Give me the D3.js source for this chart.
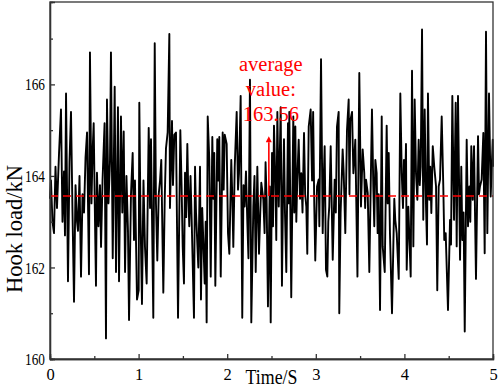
<!DOCTYPE html>
<html>
<head>
<meta charset="utf-8">
<script src="https://cdn.jsdelivr.net/npm/d3@7"></script>
<style>
  body { margin: 0; background: #fff; }
  svg text { font-family: "Liberation Serif", "Times New Roman", serif; }
</style>
</head>
<body>
<div id="chart"></div>
<script>
// hook load samples (time in s, load in kN)
var times = [
  0, .011, .028, .045, .062, .079, .102, .124, .141, .158, .169, .181, .203, .22, .237, .254, .271, .288, .305, .316,
  .333, .35, .367, .384, .401, .418, .44, .451, .468, .48,
  .493, .508, .519, .53, .547, .564, .576, .593, .616, .632, .643, .66, .677, .688, .708, .73, .745, .767, .779, .801,
  .816, .832, .847, .863, .88, .892, .914, .933, .948, .959, .982,
  1.001, 1.008, 1.021, 1.038, 1.055, 1.072, 1.091, 1.114, 1.129, 1.14, 1.166, 1.182, 1.196, 1.211, 1.227, 1.242, 1.256,
  1.279, 1.295, 1.309, 1.328, 1.347, 1.354, 1.377, 1.388, 1.403, 1.422, 1.445, 1.471,
  1.485, 1.498, 1.512, 1.524, 1.537, 1.55, 1.561, 1.572, 1.586, 1.599, 1.625, 1.637, 1.648, 1.674, 1.693, 1.704, 1.718,
  1.73, 1.746, 1.757, 1.768, 1.78, 1.798, 1.814, 1.832, 1.843, 1.854, 1.866, 1.888, 1.9, 1.911, 1.927, 1.949, 1.96, 1.972,
  1.994, 2.009, 2.024, 2.046, 2.058, 2.069, 2.085, 2.107, 2.122, 2.133, 2.152, 2.17, 2.184, 2.197, 2.212, 2.227, 2.24,
  2.257, 2.272, 2.295, 2.308, 2.322, 2.34, 2.359, 2.373, 2.385, 2.408, 2.422, 2.433, 2.445, 2.46, 2.48,
  2.491, 2.506, 2.517, 2.528, 2.543, 2.554, 2.566, 2.582, 2.604, 2.618, 2.63, 2.641, 2.652, 2.667, 2.686, 2.694, 2.701,
  2.723, 2.746, 2.757, 2.769, 2.78, 2.791, 2.807, 2.822, 2.836, 2.85, 2.867, 2.88, 2.893, 2.904, 2.92, 2.942, 2.958,
  2.97, 2.983, 2.994, 3.014, 3.033, 3.04, 3.059, 3.078, 3.089, 3.1, 3.115, 3.13, 3.141, 3.152, 3.168, 3.191, 3.213,
  3.226, 3.239, 3.258, 3.265, 3.28, 3.303, 3.315, 3.333, 3.352, 3.371, 3.38, 3.389, 3.409, 3.424, 3.446, 3.47,
  3.491, 3.51, 3.529, 3.547, 3.557, 3.567, 3.586, 3.604, 3.62, 3.634, 3.649, 3.66, 3.672, 3.687, 3.698, 3.71, 3.725,
  3.744, 3.755, 3.778, 3.8, 3.811, 3.823, 3.837, 3.86, 3.875, 3.886, 3.897, 3.913, 3.936, 3.954,
  3.97, 3.984, 3.995, 4.007, 4.018, 4.026, 4.044, 4.071, 4.086, 4.101, 4.116, 4.131, 4.146, 4.161, 4.173, 4.184, 4.199,
  4.213, 4.229, 4.244, 4.255, 4.266, 4.281, 4.292, 4.304, 4.32, 4.337, 4.357, 4.371, 4.387, 4.402, 4.421, 4.439, 4.45,
  4.466, 4.492, 4.515, 4.526, 4.541, 4.56, 4.579, 4.59, 4.605, 4.628, 4.642, 4.654, 4.668, 4.681, 4.703, 4.718, 4.733,
  4.744, 4.755, 4.771, 4.786, 4.808, 4.831, 4.842, 4.853, 4.872, 4.891, 4.906, 4.921, 4.936, 4.955, 4.974, 4.997, 5
];
var loads = [
  163.5, 163.9, 163.0, 162.75, 164.2, 163.3, 164.5, 165.45, 163.0, 164.1, 162.7, 165.8, 161.7, 164.3, 165.4, 163.2, 161.25, 163.8, 163.0, 162.8,
  164.0, 161.8, 163.6, 163.2, 164.4, 164.95, 161.85, 166.7, 163.4, 164.5,
  165.15, 163.0, 161.6, 164.07, 162.9, 163.8, 162.45, 163.9, 165.15, 160.45, 165.67, 163.4, 164.3, 166.7, 162.2, 165.95, 161.9, 165.5, 161.7, 165.3,
  163.2, 164.97, 161.9, 164.0, 162.8, 160.85, 163.6, 164.5, 162.6, 163.9, 161.3,
  161.5, 165.6, 163.2, 161.2, 163.9, 162.45, 161.65, 165.05, 163.3, 164.8, 160.9, 166.9, 163.4, 162.15, 163.6, 163.9, 164.35,
  161.45, 163.5, 164.6, 164.95, 167.1, 163.3, 165.2, 163.8, 164.9, 164.95, 160.9, 165.0,
  163.8, 162.45, 161.65, 164.07, 163.1, 164.7, 163.6, 162.9, 164.0, 163.05, 160.9, 164.2, 163.2, 162.0, 164.2, 161.3, 163.3,
  162.6, 161.65, 163.0, 160.8, 165.3, 164.35, 161.8, 164.85, 163.5, 164.5, 161.6, 164.8, 163.9, 164.85, 161.8, 164.95, 163.7, 164.9,
  164.7, 162.75, 162.3, 164.35, 163.5, 162.45, 164.2, 165.4, 163.7, 164.06, 165.75, 160.9, 163.8, 163.33, 164.1, 163.0, 162.2,
  166.1, 160.8, 163.33, 164.0, 161.9, 164.2, 162.3, 163.2, 163.85, 163.48, 162.75, 164.3, 163.48, 161.15, 163.77,
  160.8, 164.5, 162.9, 165.1, 163.92, 162.6, 165.4, 163.33, 165.5, 161.6, 163.6, 164.8, 163.2, 161.9, 165.15, 163.4, 165.4,
  161.35, 165.3, 163.2, 165.08, 163.0, 163.92, 164.79, 163.5, 164.06, 163.2, 164.94, 163.6, 163.33, 162.3, 165.08, 165.45, 163.9,
  165.4, 163.33, 162.15, 163.77, 163.92, 162.9, 166.55, 162.75, 163.9, 164.65, 161.95, 161.8, 163.0, 163.33, 164.65, 162.17, 163.92,
  163.2, 165.08, 165.4, 161.0, 163.19, 164.58, 164.06, 162.75, 165.0, 165.67, 163.6, 165.2, 165.4, 164.06, 164.79, 161.8,
  166.25, 163.33, 164.58, 164.06, 163.3, 163.92, 163.63, 161.9, 163.8, 165.45, 163.77, 162.9, 164.35, 164.06, 162.75, 163.6, 161.07,
  165.3, 162.46, 161.9, 165.1, 163.4, 164.5, 162.75, 161.0, 162.46, 163.5, 163.04, 162.75, 161.75, 165.8,
  164.06, 163.3, 164.35, 163.6, 164.7, 161.95, 163.33, 161.8, 166.3, 162.46, 165.67, 164.06, 163.48, 164.79, 163.8, 164.2, 167.2,
  163.04, 165.45, 163.33, 162.5, 165.8, 163.48, 164.2, 163.19, 164.65, 164.2, 163.77, 161.5, 163.77, 163.92, 165.3, 163.77, 162.6,
  162.75, 161.07, 163.04, 162.5, 165.75, 163.04, 165.6, 162.46, 165.75, 162.17, 164.2, 162.6, 163.2, 160.6, 164.79, 162.9, 163.77,
  163.0, 164.65, 163.48, 164.65, 161.75, 164.87, 163.6, 163.77, 163.92, 164.94, 162.31, 167.15, 162.75, 165.8, 163.55, 164.79, 164.2
];
var average = 163.56;
var arrowTime = 2.47, arrowTop = 165.0;
var noteLines = ["average", "value:", "163.56"];
var xMajor = [0, 1, 2, 3, 4, 5], xMinor = [0.5, 1.5, 2.5, 3.5, 4.5];
var yMajor = [160, 162, 164, 166], yMinor = [161, 163, 165, 167];

var margin = {top: 2, right: 5, bottom: 29, left: 50},
    width = 498 - margin.left - margin.right,
    height = 388 - margin.top - margin.bottom;

var svg = d3.select("#chart")
  .append("svg")
    .attr("width", 498)
    .attr("height", 388)
  .append("g")
    .attr("transform", "translate(" + margin.left + "," + margin.top + ")");

var x = d3.scaleLinear().domain([0, 5]).range([0, width]);
var y = d3.scaleLinear().domain([160, 167.8]).range([height, 0]);

// signal
var data = times.map(function(t, i) { return [t, loads[i]]; });
svg.append("path")
  .datum(data)
  .attr("fill", "none")
  .attr("stroke", "#000")
  .attr("stroke-width", 1.9)
  .attr("stroke-linejoin", "round")
  .attr("d", d3.line().x(function(d) { return x(d[0]); }).y(function(d) { return y(d[1]); }));

// average line
svg.append("line")
  .attr("x1", x(0)).attr("x2", x(5))
  .attr("y1", y(average)).attr("y2", y(average))
  .attr("stroke", "#ff0000")
  .attr("stroke-width", 1.6)
  .attr("stroke-dasharray", "8,5");

// arrow
svg.append("defs").append("marker")
  .attr("id", "head")
  .attr("viewBox", "0 0 10 10")
  .attr("refX", 5).attr("refY", 10)
  .attr("markerWidth", 6).attr("markerHeight", 12)
  .attr("markerUnits", "userSpaceOnUse")
  .attr("orient", "0")
  .append("path")
    .attr("d", "M0,10 L5,0 L10,10 Z")
    .attr("fill", "#ff0000");
svg.append("line")
  .attr("x1", x(arrowTime)).attr("x2", x(arrowTime))
  .attr("y1", y(average)).attr("y2", y(arrowTop) + 12)
  .attr("stroke", "#ff0000")
  .attr("stroke-width", 1.6)
  .attr("marker-end", "url(#head)");

svg.selectAll(".note")
  .data(noteLines)
  .enter().append("text")
    .attr("x", x(arrowTime) + 2)
    .attr("y", function(d, i) { return 69 + i * 25; })
    .attr("text-anchor", "middle")
    .attr("fill", "#ff0000")
    .style("font-size", "20.5px")
    .text(function(d) { return d; });

// frame
svg.append("rect")
  .attr("width", width).attr("height", height)
  .attr("fill", "none")
  .attr("stroke", "#333")
  .attr("stroke-width", 1.3);

// axes, ticks pointing inward
svg.append("g")
  .attr("transform", "translate(0," + height + ")")
  .call(d3.axisBottom(x).tickValues(xMajor).tickSize(-5).tickPadding(9).tickFormat(d3.format("d")));
svg.append("g")
  .attr("transform", "translate(0," + height + ")")
  .call(d3.axisBottom(x).tickValues(xMinor).tickSize(-3).tickFormat(""));
var yAxis = svg.append("g")
  .call(d3.axisLeft(y).tickValues(yMajor).tickSize(-5).tickPadding(5).tickFormat(d3.format("d")));
svg.append("g")
  .call(d3.axisLeft(y).tickValues(yMinor).tickSize(-3).tickFormat(""));

svg.selectAll(".domain").attr("stroke", "#333").attr("stroke-width", 1.3);
svg.selectAll(".tick line").attr("stroke", "#333").attr("stroke-width", 1.3);
svg.selectAll(".tick text")
  .attr("fill", "#000")
  .style("font-family", "'Liberation Serif', serif")
  .style("font-size", "16.5px");
yAxis.selectAll(".tick text")
  .attr("x", 0)
  .style("font-size", "17.5px")
  .attr("transform", "translate(-5,0) scale(0.76,1)");

// axis titles
svg.append("text")
  .attr("transform", "translate(" + (width / 2) + "," + (height + 25) + ") scale(0.85,1)")
  .attr("text-anchor", "middle")
  .style("font-size", "21px")
  .text("Time/S");
svg.append("text")
  .attr("transform", "translate(" + (-28) + "," + 227 + ") rotate(-90)")
  .attr("text-anchor", "middle")
  .style("font-size", "22.5px")
  .text("Hook load/kN");
</script>
</body>
</html>
